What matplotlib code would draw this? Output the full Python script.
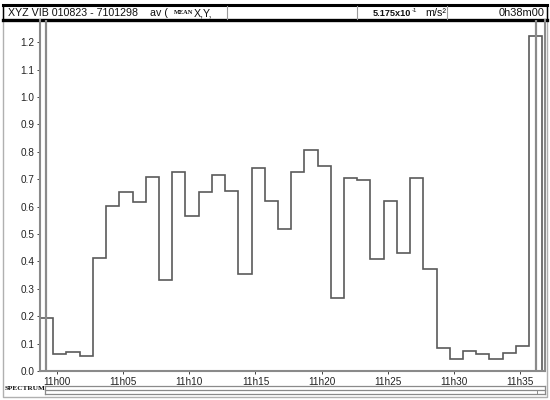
import matplotlib
matplotlib.use("Agg")
import matplotlib.pyplot as plt
import numpy as np

# one value per minute, left edge of first bin at 10h58m42s (-1.3 min from 11h00)
start_min = -1.3
values = [0.195, 0.061, 0.068, 0.054, 0.412, 0.603, 0.652, 0.616, 0.709, 0.333,
          0.725, 0.565, 0.652, 0.715, 0.658, 0.353, 0.742, 0.622, 0.518, 0.725,
          0.807, 0.749, 0.265, 0.704, 0.698, 0.410, 0.622, 0.430, 0.703, 0.371,
          0.085, 0.044, 0.073, 0.061, 0.044, 0.066, 0.090, 1.222]
tick_min = [0, 5, 10, 15, 20, 25, 30, 35]
tick_labels = ["11h00", "11h05", "11h10", "11h15", "11h20", "11h25", "11h30", "11h35"]
y_ticks = [0.0, 0.1, 0.2, 0.3, 0.4, 0.5, 0.6, 0.7, 0.8, 0.9, 1.0, 1.1, 1.2]
cursors = [-0.83, 36.2]

FONT = "Liberation Sans"
GRAY = "#8a8a8a"
LINE = "#5a5a5a"

fig = plt.figure(figsize=(5.5, 4), dpi=100)
fig.patch.set_facecolor("white")

# decoration layer in pixel coords
deco = fig.add_axes([0, 0, 1, 1])
deco.set_xlim(0, 550)
deco.set_ylim(400, 0)
deco.set_axis_off()

# outer light frame
deco.plot([2.5, 2.5, 547, 547, 2.5], [5, 397, 397, 5, 5], color="#b0b0b0", lw=1.0)

# header box
deco.plot([3, 547], [5, 5], color="black", lw=2.2)
deco.plot([3, 547], [20, 20], color="black", lw=2.4)
deco.plot([3, 3], [5, 20], color="black", lw=1.0)
deco.plot([547, 547], [5, 20], color="black", lw=1.0)
for sx in [227, 357, 447]:
    deco.plot([sx, sx], [6, 19], color="#9a9a9a", lw=0.8)

deco.text(8, 13, "XYZ VIB 010823 - 7101298", fontsize=7.7, family=FONT,
          va="center", ha="left", color="#111111")
deco.text(150, 13, "av (", fontsize=7.7, family=FONT, va="center", ha="left",
          color="#111111")
deco.text(174, 12.5, "MEAN", fontsize=4.6, family="Liberation Serif", weight="bold",
          va="center", ha="left", color="#111111")
deco.text(194, 13, "X,Y,", fontsize=7.7, family=FONT, va="center", ha="left",
          color="#111111")
deco.text(373, 13, "5.175x10", fontsize=6.6, family=FONT, weight="bold",
          va="center", ha="left", color="#111111")
deco.text(412, 10.5, "-1", fontsize=4.4, family=FONT, va="center", ha="left",
          color="#111111")
deco.text(425, 13, "m/s²", fontsize=7.8, family=FONT, va="center", ha="left",
          color="#111111")
deco.text(545, 13, "0h38m00", fontsize=7.9, family=FONT, va="center", ha="right",
          color="#111111")

# bottom SPECTRUM strip
deco.text(5, 388.5, "SPECTRUM", fontsize=5.2, family="Liberation Serif",
          weight="bold", va="center", ha="left", color="#111111")
deco.plot([45, 545], [386, 386], color=GRAY, lw=0.9)
deco.plot([45, 545], [390, 390], color=GRAY, lw=0.9)
deco.plot([45, 545], [394, 394], color=GRAY, lw=0.9)
deco.plot([45, 45], [386, 394], color=GRAY, lw=0.9)
deco.plot([545, 545], [386, 394], color=GRAY, lw=0.9)
deco.plot([537, 537], [390, 394], color=GRAY, lw=0.7)

# main plot
ax = fig.add_axes([40 / 550, 1 - 371 / 400, 505 / 550, 351 / 400])
ax.set_facecolor("none")
edges = start_min + np.arange(len(values) + 1)
ax.stairs(values, edges, baseline=0, color=LINE, lw=1.2)
for c in cursors:
    ax.axvline(c, color=GRAY, lw=1.6)

ax.set_xlim(start_min, 36.9)
ax.set_ylim(0, 1.281)
ax.set_xticks(tick_min)
ax.set_xticklabels(tick_labels)
ax.set_yticks(y_ticks)
ax.set_yticklabels([f"{v:.1f}" for v in y_ticks])
ax.tick_params(axis="both", length=2.5, width=0.7, color="#444444",
               labelsize=7.2, labelcolor="#222222", pad=1.5)
for lab in ax.get_xticklabels() + ax.get_yticklabels():
    lab.set_family(FONT)
for side in ["left", "bottom", "right"]:
    ax.spines[side].set_color(GRAY)
    ax.spines[side].set_linewidth(1.5)
ax.spines["top"].set_visible(False)

fig.savefig("out.png", dpi=100, facecolor="white")
